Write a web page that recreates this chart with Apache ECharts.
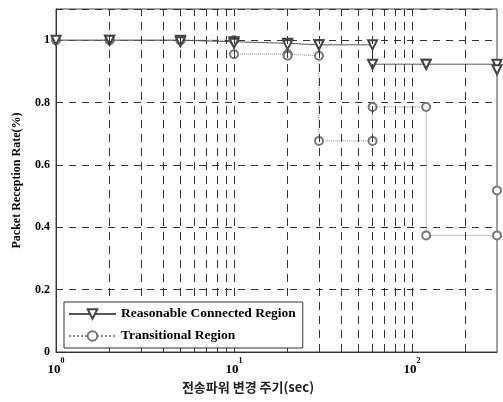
<!DOCTYPE html>
<html>
<head>
<meta charset="utf-8">
<script src="https://cdn.jsdelivr.net/npm/echarts@6/dist/echarts.min.js"></script>
<style>html,body{margin:0;padding:0;background:#fff}#c{width:503px;height:402px}</style>
</head>
<body>
<div id="c"></div>
<script>
// Transmission-power change period (sec)
var periods = [1, 2, 5, 10, 20, 30, 60, 120, 300];
var reasonable = [1.0, 1.0, 0.995, 0.99, 0.985, 0.985, 0.923, 0.923, 0.905];
var transitional = [1.0, 1.0, 1.0, 0.955, 0.95, 0.677, 0.786, 0.374, 0.518];
var seriesNames = ['Reasonable Connected Region', 'Transitional Region'];
var yTicks = [0, 0.2, 0.4, 0.6, 0.8, 1];
var xGridValues = [2,3,4,5,6,7,8,9,10,20,30,40,50,60,70,80,90,100,200];
var xAxisTitle = '전송파워 변경 주기(sec)';
var yAxisTitle = 'Packet Reception Rate(%)';

// stairs vertices (Matlab-style stairs with markers on every vertex)
function stairs(xs, ys) {
  var out = [[xs[0], ys[0]]];
  for (var i = 1; i < xs.length; i++) {
    out.push([xs[i], ys[i - 1]]);
    out.push([xs[i], ys[i]]);
  }
  return out;
}

var serif = '"Liberation Serif","DejaVu Serif",serif';
var chart = echarts.init(document.getElementById('c'), null, {renderer: 'canvas'});
chart.setOption({
  animation: false,
  backgroundColor: '#fff',
  grid: {left: 56, right: 6, top: 9, bottom: 50, show: true, borderColor: '#444', borderWidth: 1},
  legend: {
    orient: 'vertical', left: 64, top: 302, z: 20,
    itemWidth: 47, itemHeight: 12, itemGap: 8,
    padding: [5, 7, 5, 4],
    borderColor: '#333', borderWidth: 1, backgroundColor: '#fff',
    textStyle: {fontFamily: serif, fontWeight: 'bold', fontSize: 13.5, color: '#000'},
    data: seriesNames
  },
  xAxis: {
    type: 'log', logBase: 10, min: 1, max: 300,
    name: xAxisTitle, nameLocation: 'middle', nameGap: 27,
    nameTextStyle: {fontFamily: '"Noto Sans CJK KR",' + serif, fontWeight: 'bold', fontSize: 13, color: '#222', padding: [0, 57, 0, 0]},
    axisLine: {lineStyle: {color: '#333'}},
    axisTick: {show: false},
    splitLine: {show: false},
    axisLabel: {
      margin: 10,
      formatter: function (v) {
        var e = Math.round(Math.log(v) / Math.LN10);
        if (Math.abs(Math.pow(10, e) - v) > 1e-6) return '';
        return '{b|10}{s|' + e + '}';
      },
      rich: {
        b: {fontFamily: serif, fontWeight: 'bold', fontSize: 13, color: '#000', verticalAlign: 'bottom', lineHeight: 14},
        s: {fontFamily: serif, fontWeight: 'bold', fontSize: 8, color: '#000', verticalAlign: 'bottom', lineHeight: 10, padding: [0, 0, 11, 0]}
      }
    }
  },
  yAxis: {
    type: 'value', min: 0, max: 1.1, interval: 0.2,
    name: yAxisTitle, nameLocation: 'middle', nameGap: 33,
    nameTextStyle: {fontFamily: serif, fontWeight: 'bold', fontSize: 12, color: '#000'},
    axisLine: {show: true, lineStyle: {color: '#333'}},
    axisTick: {show: false},
    splitLine: {show: true, lineStyle: {color: '#333', type: [7, 6], width: 1}},
    axisLabel: {
      margin: 6, fontFamily: serif, fontWeight: 'bold', fontSize: 12, color: '#000',
      formatter: function (v) {
        for (var i = 0; i < yTicks.length; i++) if (Math.abs(yTicks[i] - v) < 1e-6) return String(yTicks[i]);
        return '';
      }
    }
  },
  series: [
    {
      name: seriesNames[1], type: 'line', data: stairs(periods, transitional),
      symbol: 'emptyCircle', symbolSize: 8,
      lineStyle: {color: '#888', width: 1, type: 'dotted'},
      itemStyle: {color: '#777', borderWidth: 1},
      z: 3,
      markLine: {
        silent: true, symbol: ['none', 'none'], label: {show: false},
        lineStyle: {color: '#333', type: [8, 6], width: 1},
        data: xGridValues.map(function (v) { return {xAxis: v}; })
      }
    },
    {
      name: seriesNames[0], type: 'line', data: stairs(periods, reasonable),
      symbol: 'emptyTriangle', symbolRotate: 180, symbolSize: 9,
      lineStyle: {color: '#555', width: 1},
      itemStyle: {color: '#444', borderWidth: 1.3},
      z: 4
    }
  ]
});
</script>
</body>
</html>
